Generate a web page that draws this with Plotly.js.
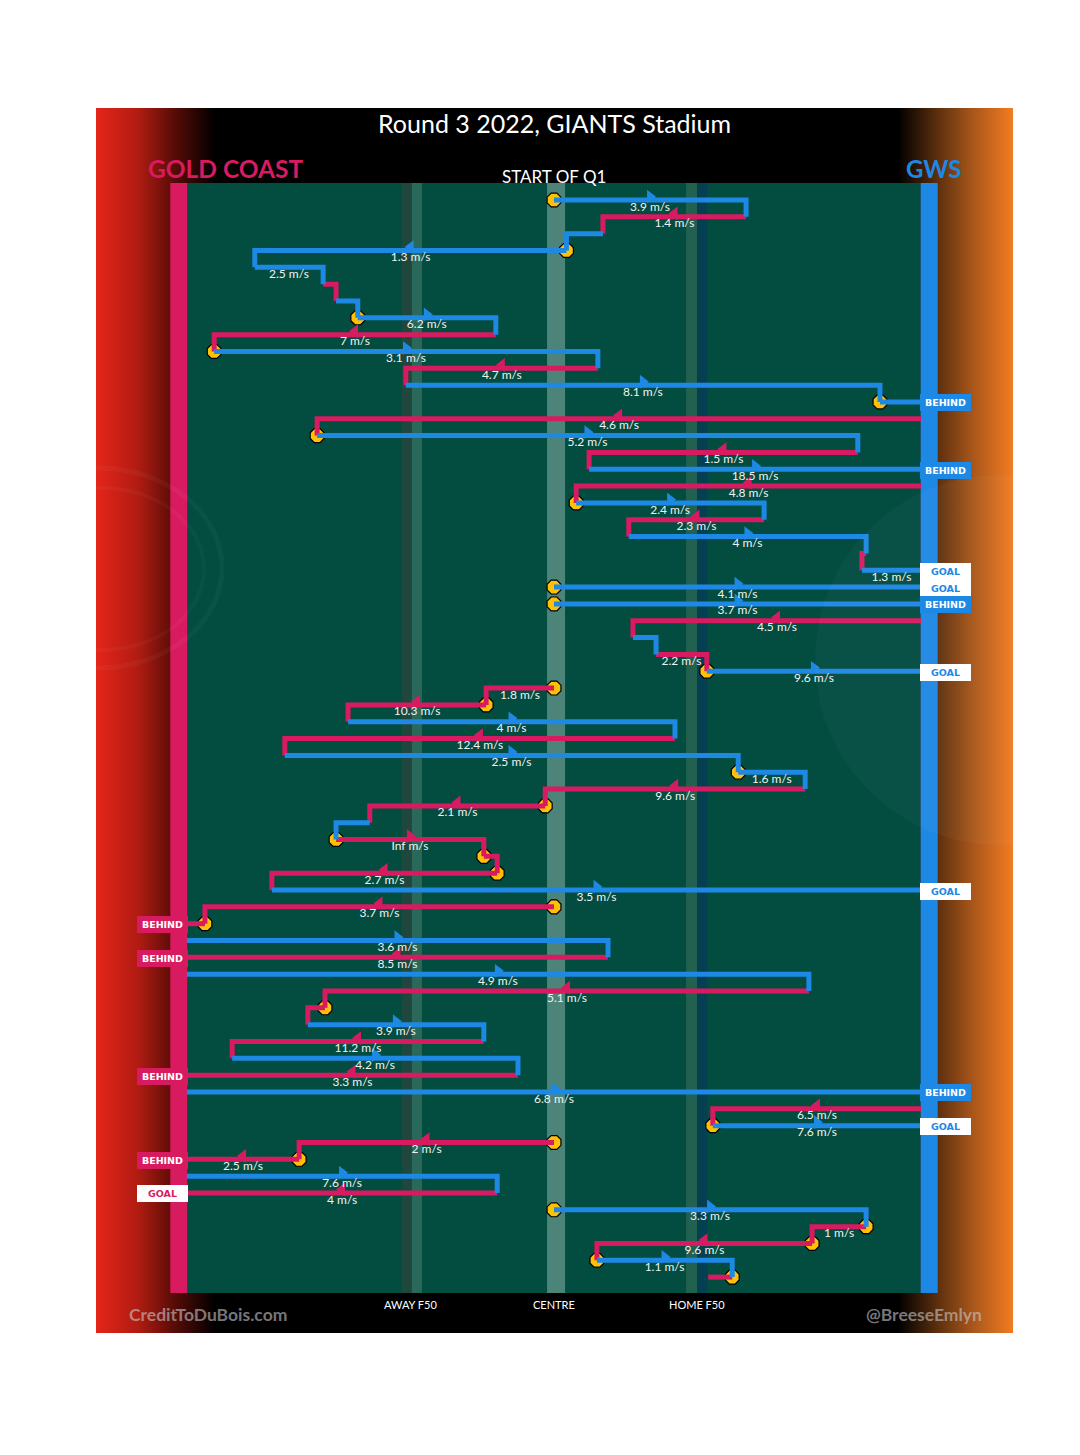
<!DOCTYPE html>
<html><head><meta charset="utf-8">
<script src="https://cdn.plot.ly/plotly-3.0.1.min.js"></script>
<style>html,body{margin:0;padding:0;background:#fff;}#chart{width:1080px;height:1455px;}</style>
</head><body><div id="chart"></div>
<script>
// ---------------- DATA ----------------
const GOAL = 79.5;          // goal line, metres from centre
const F50 = 31;             // forward-50 marker position
const markLabels = ['AWAY F50', 'CENTRE', 'HOME F50'];
const markX = [-F50, 0, F50];

// one entry per row (chain segment), top to bottom
const rowTeam = ['GWS','GCS','GWS','GWS','GWS','GCS','GWS','GWS','GCS','GWS',
 'GCS','GWS','GWS','GCS','GWS','GCS','GWS','GCS','GWS','GCS',
 'GWS','GCS','GWS','GWS','GWS','GCS','GWS','GCS','GWS','GCS',
 'GCS','GWS','GCS','GWS','GWS','GCS','GCS','GWS','GCS','GCS',
 'GCS','GWS','GCS','GCS','GWS','GCS','GWS','GCS','GCS','GWS',
 'GCS','GWS','GCS','GWS','GCS','GWS','GCS','GCS','GWS','GCS',
 'GWS','GCS','GCS','GWS','GCS'];
const rowFrom = [0, 41.6, 10.6, 2.7, -64.8, -50.0, -47.2, -42.5, -12.6, -73.6,
 9.5, -32.1, 70.6, GOAL, -51.3, 65.8, 7.6, GOAL, 4.8, 45.5,
 16.2, 67.6, 66.7, 0, 0, GOAL, 17.1, 22.1, 33.1, 0,
 -14.7, -44.6, 26.2, -58.3, 39.9, 54.4, -1.9, -39.9, -47.2, -15.2,
 -12.3, -61.1, 0, -75.6, -GOAL, 11.7, -GOAL, 55.2, -49.6, -53.3,
 -15.2, -69.7, -7.8, -GOAL, GOAL, 34.4, 0, -55.2, -GOAL, -12.3,
 0, 67.6, 55.9, 9.3, 38.6];
const rowTo = [41.6, 10.6, 2.7, -64.8, -50.0, -47.2, -42.5, -12.6, -73.6, 9.5,
 -32.1, 70.6, GOAL, -51.3, 65.8, 7.6, GOAL, 4.8, 45.5, 16.2,
 67.6, 66.7, GOAL, GOAL, GOAL, 17.1, 22.1, 33.1, GOAL, -14.7,
 -44.6, 26.2, -58.3, 39.9, 54.4, -1.9, -39.9, -47.2, -15.2, -12.3,
 -61.1, GOAL, -75.6, -GOAL, 11.7, -GOAL, 55.2, -49.6, -53.3, -15.2,
 -69.7, -7.8, -GOAL, GOAL, 34.4, GOAL, -55.2, -GOAL, -12.3, -GOAL,
 67.6, 55.9, 9.3, 38.6, 33.4];
const rowSpeed = ['3.9','1.4','','1.3','2.5','','','6.2','7','3.1',
 '4.7','8.1','','4.6','5.2','1.5','18.5','4.8','2.4','2.3',
 '4','','1.3','4.1','3.7','4.5','','2.2','9.6','1.8',
 '10.3','4','12.4','2.5','1.6','9.6','2.1','','Inf','',
 '2.7','3.5','3.7','','3.6','8.5','4.9','5.1','','3.9',
 '11.2','4.2','3.3','6.8','6.5','7.6','2','2.5','7.6','4',
 '3.3','1','9.6','1.1',''];
const rowStoppage = [1,0,0,1,0,0,0,1,0,1,
 0,0,1,0,1,0,0,0,1,0,
 0,0,0,1,1,0,0,0,1,1,
 1,0,0,0,1,0,1,0,1,1,
 1,0,1,1,0,0,0,0,1,0,
 0,0,0,0,0,1,1,1,0,0,
 1,1,1,1,1];
const rowResult = ['','','','','','','','','','',
 '','','BEHIND','','','','BEHIND','','','',
 '','','GOAL','GOAL','BEHIND','','','','GOAL','',
 '','','','','','','','','','',
 '','GOAL','','BEHIND','','BEHIND','','','','',
 '','','BEHIND','BEHIND','','GOAL','','BEHIND','','GOAL',
 '','','','',''];

// ---------------- STYLE / GEOMETRY ----------------
const COL = {GWS:'#1e88e5', GCS:'#d81b60'};
const PX_PER_M = 374/81, PX_PER_ROW = 16.83;
const px2x = p => (p - 554)/PX_PER_M;
const py2y = p => (p - 200)/PX_PER_ROW;
const XR = [px2x(96), px2x(1013)];
const YR = [py2y(1333), py2y(108)];
const FX = 79.4, BARW = 3.7;
const FY0 = py2y(183), FY1 = py2y(1293);
const n = rowTeam.length;

function rect(x0,x1,y0,y1,color,extra){
  return Object.assign({type:'scatter',mode:'none',x:[x0,x1,x1,x0,x0],y:[y0,y0,y1,y1,y0],
    fill:'toself',fillcolor:color,hoverinfo:'skip',showlegend:false}, extra||{});
}

const traces = [];
// frame gradients
traces.push(rect(XR[0], px2x(215), YR[1], YR[0], '#000', {fillgradient:{type:'horizontal',
  start:XR[0], stop:px2x(215), colorscale:[[0,'#e4251a'],[0.35,'#b11c12'],[0.65,'#5a0c07'],[1,'#000000']]}}));
traces.push(rect(px2x(898), XR[1], YR[1], YR[0], '#000', {fillgradient:{type:'horizontal',
  start:px2x(898), stop:XR[1], colorscale:[[0,'#000000'],[0.35,'#5e300e'],[0.65,'#a8561a'],[1,'#f27c22']]}}));
// field
traces.push(rect(-FX, FX, FY0, FY1, '#024c40'));
// stripes
traces.push(rect(-F50-2.0, -F50+0.2, FY0, FY1, '#1f473d'));
traces.push(rect(-F50+0.2, -F50+2.4, FY0, FY1, '#2a685a'));
traces.push(rect(-1.5, 2.4, FY0, FY1, '#4d8479'));
traces.push(rect(F50-2.4, F50, FY0, FY1, '#22604f'));
traces.push(rect(F50, F50+2.2, FY0, FY1, '#044052'));
// end bars
traces.push(rect(-FX-BARW, -FX, FY0, FY1, COL.GCS));
traces.push(rect(FX, FX+BARW, FY0, FY1, COL.GWS));

// stoppage markers
const mx=[], my=[];
for (let i=0;i<n;i++) if (rowStoppage[i]) { mx.push(rowFrom[i]); my.push(i); }
traces.push({type:'scatter',mode:'markers',x:mx,y:my,hoverinfo:'skip',showlegend:false,
  marker:{symbol:'octagon',size:15,color:'#ffc107',line:{color:'#000',width:1.2}}});

// chain lines
['GCS','GWS'].forEach(team=>{
  const xs=[], ys=[];
  for (let i=0;i<n;i++){
    if (rowTeam[i]!==team) continue;
    xs.push(rowFrom[i], rowTo[i]); ys.push(i, i);
    if (rowResult[i]==='' && i<n-1){ xs.push(rowTo[i]); ys.push(i+1); }
    xs.push(null); ys.push(null);
  }
  traces.push({type:'scatter',mode:'lines',x:xs,y:ys,connectgaps:false,hoverinfo:'skip',showlegend:false,
    line:{color:COL[team],width:5}});
});

// arrows
const ax=[], ay=[], asym=[], acol=[];
for (let i=0;i<n;i++){
  const d = rowTo[i]-rowFrom[i];
  if (Math.abs(d) > 20){
    ax.push((rowFrom[i]+rowTo[i])/2); ay.push(i-0.2);
    asym.push(d>0?'triangle-right':'triangle-left'); acol.push(COL[rowTeam[i]]);
  }
}
traces.push({type:'scatter',mode:'markers',x:ax,y:ay,hoverinfo:'skip',showlegend:false,
  marker:{symbol:asym,size:12,color:acol,line:{width:0}}});

// speed labels
const tx=[], ty=[], tt=[];
for (let i=0;i<n;i++) if (rowSpeed[i]!==''){
  tx.push((rowFrom[i]+rowTo[i])/2); ty.push(i+0.45); tt.push(rowSpeed[i]+' m/s');
}
traces.push({type:'scatter',mode:'text',x:tx,y:ty,text:tt,textposition:'middle center',
  hoverinfo:'skip',showlegend:false,textfont:{family:'Lato, "Open Sans", sans-serif',size:12,color:'#f2f2f2'}});

// ---------------- ANNOTATIONS ----------------
const FONT = 'Lato, "Open Sans", sans-serif';
const ann = [];
ann.push({x:0,y:py2y(123),text:'Round 3 2022, GIANTS Stadium',showarrow:false,font:{family:FONT,size:25,color:'#fff'}});
ann.push({x:px2x(225),y:py2y(168),text:'<b>GOLD COAST</b>',showarrow:false,font:{family:FONT,size:24.5,color:COL.GCS}});
ann.push({x:px2x(934),y:py2y(168),text:'<b>GWS</b>',showarrow:false,font:{family:FONT,size:24,color:COL.GWS}});
ann.push({x:0,y:py2y(176),text:'START OF Q1',showarrow:false,font:{family:FONT,size:17,color:'#fff'}});
markLabels.forEach((t,k)=>ann.push({x:markX[k],y:py2y(1304),text:t,showarrow:false,font:{family:FONT,size:11,color:'#fff'}}));
ann.push({x:px2x(208),y:py2y(1314),text:'<b>CreditToDuBois.com</b>',showarrow:false,font:{family:FONT,size:17.5,color:'rgba(200,200,200,0.6)'}});
ann.push({x:px2x(924),y:py2y(1314),text:'<b>@BreeseEmlyn</b>',showarrow:false,font:{family:FONT,size:17.5,color:'rgba(200,200,200,0.6)'}});
// result boxes
for (let i=0;i<n;i++){
  const r = rowResult[i]; if (!r) continue;
  const s = rowTo[i] > 0 ? 1 : -1;
  const team = rowTeam[i];
  const isGoal = r==='GOAL';
  ann.push({x:s*GOAL,y:i,xshift:s*24.5,yshift:-1,text:'<b>'+r+'</b>',showarrow:false,
    width:47,height:13,borderpad:2,borderwidth:0,
    bgcolor:isGoal?'#ffffff':COL[team],
    font:{family:'"DejaVu Sans", Verdana, sans-serif',size:9.5,color:isGoal?COL[team]:'#ffffff'}});
}

// faint background logos
const shapes = [
  {type:'circle',xref:'x',yref:'y',layer:'above',x0:px2x(815),x1:px2x(1185),y0:py2y(475),y1:py2y(845),
   fillcolor:'rgba(255,255,255,0.03)',line:{width:0}},
  {type:'circle',xref:'x',yref:'y',layer:'above',x0:px2x(-25),x1:px2x(222),y0:py2y(468),y1:py2y(668),
   line:{color:'rgba(255,255,255,0.035)',width:5}},
  {type:'circle',xref:'x',yref:'y',layer:'above',x0:px2x(0),x1:px2x(204),y0:py2y(488),y1:py2y(650),
   line:{color:'rgba(255,255,255,0.03)',width:4}}
];

const layout = {
  width:1080, height:1455,
  margin:{l:96, r:67, t:108, b:122, pad:0},
  paper_bgcolor:'#ffffff', plot_bgcolor:'#000000',
  showlegend:false,
  xaxis:{range:XR, visible:false, showgrid:false, zeroline:false, fixedrange:true},
  yaxis:{range:YR, visible:false, showgrid:false, zeroline:false, fixedrange:true},
  annotations:ann, shapes:shapes
};
Plotly.newPlot('chart', traces, layout, {displayModeBar:false, staticPlot:true});
</script></body></html>
